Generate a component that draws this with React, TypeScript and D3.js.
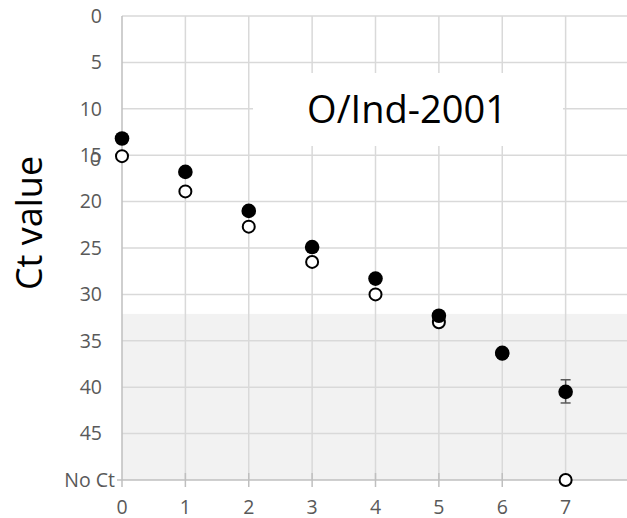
import React, { useEffect, useRef } from 'react';
import * as d3 from 'd3';

// dilution steps (x) and Ct values (y); 50 stands for "No Ct"
const steps = [0, 1, 2, 3, 4, 5, 6, 7];
const filledCt = [13.2, 16.8, 21.0, 24.9, 28.3, 32.3, 36.3, 40.5];
const openCt = [15.1, 18.9, 22.7, 26.5, 30.0, 33.0, 36.4, 50];
const errLow = [null, null, null, null, null, null, null, 39.2];
const errHigh = [null, null, null, null, null, null, null, 41.7];
const yTicks = [0, 5, 10, 15, 20, 25, 30, 35, 40, 45, 50];
const yTickLabels = ['0', '5', '10', '15', '20', '25', '30', '35', '40', '45', 'No Ct'];
const xTicks = [0, 1, 2, 3, 4, 5, 6, 7];
const xGrid = [0, 1, 2, 3, 4, 5, 6, 7, 8];
const shadeFrom = 32.1;
const title = 'O/Ind-2001';

const App = () => {
  const svgRef = useRef(null);

  useEffect(() => {
    const width = 627;
    const height = 518;
    const left = 122;
    const top = 16;
    const bottom = 480;

    const svg = d3.select(svgRef.current);
    svg.selectAll('*').remove();
    svg.attr('width', width).attr('height', height);

    const x = d3.scaleLinear().domain([0, 8]).range([left, 629]);
    const y = d3.scaleLinear().domain([0, 50]).range([top, bottom]);
    const font = "'Open Sans', sans-serif";

    // shaded region below detection limit
    svg
      .append('rect')
      .attr('x', x(0))
      .attr('y', y(shadeFrom))
      .attr('width', x(8) - x(0))
      .attr('height', y(50) - y(shadeFrom))
      .attr('fill', '#f2f2f2');

    // grid
    svg
      .selectAll('.hgrid')
      .data(yTicks.slice(0, -1))
      .enter()
      .append('line')
      .attr('x1', x(0))
      .attr('x2', x(8))
      .attr('y1', (d) => y(d))
      .attr('y2', (d) => y(d))
      .attr('stroke', '#d9d9d9')
      .attr('stroke-width', 1.5);

    svg
      .selectAll('.vgrid')
      .data(xGrid.slice(1))
      .enter()
      .append('line')
      .attr('x1', (d) => x(d))
      .attr('x2', (d) => x(d))
      .attr('y1', y(0))
      .attr('y2', y(50))
      .attr('stroke', '#d9d9d9')
      .attr('stroke-width', 1.5);

    // axes
    svg
      .append('line')
      .attr('x1', x(0))
      .attr('x2', x(8))
      .attr('y1', y(50))
      .attr('y2', y(50))
      .attr('stroke', '#bfbfbf')
      .attr('stroke-width', 1.5);
    svg
      .append('line')
      .attr('x1', x(0))
      .attr('x2', x(0))
      .attr('y1', y(0))
      .attr('y2', y(50) + 7)
      .attr('stroke', '#bfbfbf')
      .attr('stroke-width', 1.5);
    svg
      .selectAll('.xtick')
      .data(xTicks.slice(1))
      .enter()
      .append('line')
      .attr('x1', (d) => x(d))
      .attr('x2', (d) => x(d))
      .attr('y1', y(50) - 7)
      .attr('y2', y(50) + 7)
      .attr('stroke', '#bfbfbf')
      .attr('stroke-width', 1.5);
    svg
      .append('line')
      .attr('x1', x(0) - 5)
      .attr('x2', x(0))
      .attr('y1', y(50))
      .attr('y2', y(50))
      .attr('stroke', '#bfbfbf')
      .attr('stroke-width', 1.5);

    // tick labels
    svg
      .selectAll('.ylab')
      .data(yTicks)
      .enter()
      .append('text')
      .attr('x', (d, i) => (i === yTicks.length - 1 ? 115 : 102))
      .attr('y', (d) => y(d))
      .attr('dy', '0.35em')
      .attr('text-anchor', 'end')
      .attr('font-family', font)
      .attr('font-size', 19.5)
      .attr('fill', '#595959')
      .text((d, i) => yTickLabels[i]);

    // stray overlapping label next to 15
    svg
      .append('text')
      .attr('x', 101)
      .attr('y', y(15) + 4)
      .attr('dy', '0.35em')
      .attr('text-anchor', 'end')
      .attr('font-family', font)
      .attr('font-size', 19.5)
      .attr('fill', '#595959')
      .text('0');

    svg
      .selectAll('.xlab')
      .data(xTicks)
      .enter()
      .append('text')
      .attr('x', (d) => x(d))
      .attr('y', 507)
      .attr('dy', '0.35em')
      .attr('text-anchor', 'middle')
      .attr('font-family', font)
      .attr('font-size', 19.5)
      .attr('fill', '#595959')
      .text((d) => d);

    // axis title
    svg
      .append('text')
      .attr('transform', `translate(42,223) rotate(-90)`)
      .attr('text-anchor', 'middle')
      .attr('font-family', font)
      .attr('font-size', 36)
      .attr('fill', '#000')
      .text('Ct value');

    // chart label with white box
    svg
      .append('rect')
      .attr('x', 253)
      .attr('y', 73)
      .attr('width', 310)
      .attr('height', 73)
      .attr('fill', '#fff');
    svg
      .append('text')
      .attr('x', 407)
      .attr('y', 110)
      .attr('dy', '0.35em')
      .attr('text-anchor', 'middle')
      .attr('font-family', font)
      .attr('font-size', 38)
      .attr('fill', '#000')
      .text(title);

    // error bars
    const errs = steps
      .map((s, i) => ({ s, lo: errLow[i], hi: errHigh[i] }))
      .filter((d) => d.lo != null);
    errs.forEach((d) => {
      const g = svg.append('g').attr('stroke', '#595959').attr('stroke-width', 1.5);
      g.append('line').attr('x1', x(d.s)).attr('x2', x(d.s)).attr('y1', y(d.lo)).attr('y2', y(d.hi));
      g.append('line').attr('x1', x(d.s) - 5).attr('x2', x(d.s) + 5).attr('y1', y(d.lo)).attr('y2', y(d.lo));
      g.append('line').attr('x1', x(d.s) - 5).attr('x2', x(d.s) + 5).attr('y1', y(d.hi)).attr('y2', y(d.hi));
    });

    // open markers
    svg
      .selectAll('.open')
      .data(steps)
      .enter()
      .append('circle')
      .attr('cx', (d) => x(d))
      .attr('cy', (d, i) => y(openCt[i]))
      .attr('r', 6)
      .attr('fill', '#fff')
      .attr('stroke', '#000')
      .attr('stroke-width', 2);

    // filled markers
    svg
      .selectAll('.filled')
      .data(steps)
      .enter()
      .append('circle')
      .attr('cx', (d) => x(d))
      .attr('cy', (d, i) => y(filledCt[i]))
      .attr('r', 7.3)
      .attr('fill', '#000');
  }, []);

  return (
    <div style={{ position: 'absolute', left: 0, top: 0 }}>
      <svg ref={svgRef} style={{ display: 'block' }}></svg>
    </div>
  );
};

export default App;
